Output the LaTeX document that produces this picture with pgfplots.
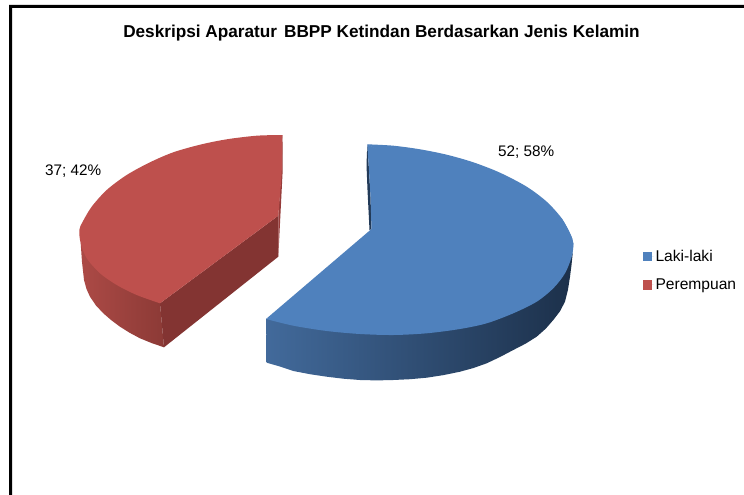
\documentclass[border=0pt]{standalone}
\usepackage{pgfplots}
\pgfplotsset{compat=1.18}
\usepackage{fontspec}
\setmainfont{Liberation Sans}
\definecolor{bluetop}{RGB}{79,129,189}
\definecolor{redtop}{RGB}{190,80,77}
\definecolor{bl}{RGB}{66,106,155}
\definecolor{bm}{RGB}{34,58,88}
\definecolor{br}{RGB}{28,48,74}
\definecolor{rl}{RGB}{172,74,70}
\definecolor{rm}{RGB}{152,64,60}
\definecolor{rr}{RGB}{140,58,54}
\definecolor{rcut}{RGB}{131,52,50}
\definecolor{rsl}{RGB}{150,60,58}
\begin{document}
\begin{tikzpicture}[x=1pt,y=1pt]
\begin{axis}[
  at={(0,0)},anchor=south west,
  scale only axis,width=744pt,height=495pt,
  xmin=0,xmax=744,ymin=0,ymax=495,y dir=reverse,
  hide axis,clip=true,
  legend style={at={(axis cs:643,270.5)},anchor=west,draw=none,fill=none,
    font=\fontsize{15.6}{17}\selectfont,inner sep=0pt,outer sep=0pt,
    row sep=12pt},
  legend cell align=left,
  legend image code/.code={\path (0pt,0pt) -- (10.5pt,0pt);\fill[#1] (0pt,-4.6pt) rectangle (9.3pt,4.6pt);},
]
% page and frame
\addplot[fill=white,draw=none,forget plot] coordinates {(0,0)(744,0)(744,495)(0,495)(0,0)};
\addplot[fill=black,draw=none,forget plot] coordinates {(9,5)(744,5)(744,8)(12,8)(12,495)(9,495)(9,5)};
% blue side
\addplot[draw=none,left color=bl,middle color=bm,right color=br,forget plot] coordinates {
(266,319)(393,320)(572.7,253.3)(571.5,265)(570,276.7)(568,289.5)(565,301.7)(559.9,311.4)(553.3,320)(545.7,328.7)(536.7,336.7)(525.7,343.6)(513.3,350)(500,357)(486.7,363.3)(473.5,368)(460,371.7)(443.5,375.1)(426.7,377.7)(410,379.2)(393.3,380)(376.7,380.4)(360,380)(343.3,378.7)(326.7,376.7)(310,374.2)(293.3,371)(280,366.5)(266.7,362.7)(266,319)};
\addplot[fill=bm,draw=none,forget plot] coordinates {(367.3,144.3)(369,170)(370.5,196.7)(371.5,229)(369.5,230)(367.5,190)(366.5,165)(367.3,144.3)};
% blue top
\addplot[fill=bluetop,draw=none,forget plot] coordinates {(367.3,144.3)(565,240)(266,319)(371.5,229)(370.5,196.7)(369,170)(367.3,144.3)};
\addplot[smooth,fill=bluetop,draw=none,forget plot] coordinates {
(561.7,218.3)(570,233.3)(573.3,243.3)(571.7,256.7)(565,273.3)(553.3,288.3)(536.7,301.7)(513.3,313.3)(486.7,323.3)(460,329)(426.7,333.3)(393.3,335)(360,334)(326.7,331)(293.3,325.7)(266,319)};
\addplot[smooth,fill=bluetop,draw=none] coordinates {
(367.3,144.3)(393.3,145.7)(420,149.3)(446.7,154.7)(473.3,162.3)(500,172.7)(526.7,186.7)(546.7,201.7)(561.7,218.3)(570,233.3)(573.3,243.3)(571.7,256.7)};
% red side
\addplot[draw=none,left color=rl,middle color=rm,right color=rr,forget plot] coordinates {
(80.7,243.3)(160,303.3)(164,347.3)(151.5,343)(140,338.3)(129.7,332.8)(120,326.7)(111.3,320.2)(103.3,313.3)(96,305.5)(90,296.7)(86.5,289)(84,280)(82,262)(80.7,243.3)};
\addplot[fill=rcut,draw=none,forget plot] coordinates {(160,303.3)(278.3,215.7)(278.3,256.7)(164,347.3)(160,303.3)};
\addplot[fill=rsl,draw=none,forget plot] coordinates {(282.5,135)(282.7,170)(278.3,256.7)(278.3,215.7)(281,175)(282.5,135)};
% red top
\addplot[fill=redtop,draw=none,forget plot] coordinates {(282.3,135)(150,200)(160,303.3)(278.3,215.7)(281.7,173.3)(282.3,135)};
\addplot[smooth,fill=redtop,draw=none] coordinates {
(282.3,135)(256.7,135.7)(226.7,139.3)(200,144.7)(173.3,152.3)(150,162.3)(126.7,175)(106.7,190)(91.7,206.7)(82.7,221.7)(79.3,230)(80.7,243.3)(86.7,258.3)(100,273.3)(116.7,285)(136.7,295)(160,303.3)};
\legend{Laki-laki,Perempuan}
\node[font=\bfseries\fontsize{17.2}{18}\selectfont,anchor=base] at (axis cs:381.5,38) {Deskripsi Aparatur\hspace{7pt}BBPP Ketindan Berdasarkan Jenis Kelamin};
\node[font=\fontsize{15.3}{17}\selectfont,anchor=base west,inner sep=0pt] at (axis cs:498,156) {52; 58\%};
\node[font=\fontsize{15.3}{17}\selectfont,anchor=base west,inner sep=0pt] at (axis cs:45,175) {37; 42\%};
\end{axis}
\end{tikzpicture}
\end{document}
